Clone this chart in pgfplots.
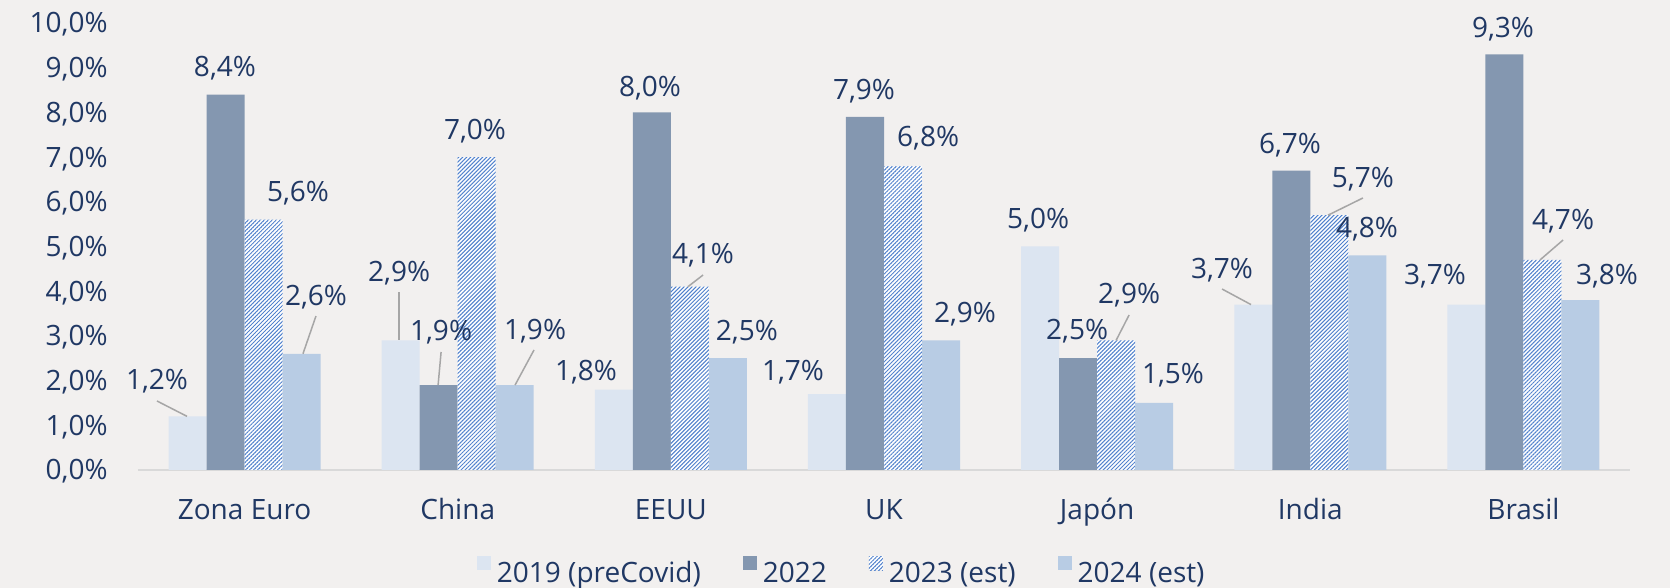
\documentclass[border=0pt]{standalone}
\usepackage{fontspec}
\setmainfont{Open Sans}
\usepackage{pgfplots}
\pgfplotsset{compat=1.18}
\usetikzlibrary{patterns.meta}
\definecolor{bg}{HTML}{F2F0EF}
\definecolor{navy}{HTML}{203864}
\definecolor{cA}{HTML}{DCE5F1}
\definecolor{cB}{HTML}{8497B0}
\definecolor{cC}{HTML}{5081CC}
\definecolor{cD}{HTML}{B8CCE4}
\definecolor{axgray}{HTML}{D9D9D9}
\definecolor{leadgray}{HTML}{A6A6A6}
\tikzset{
  lbl/.style={anchor=base, inner sep=0pt, yshift=-5.1pt, text=navy, font=\fontsize{14}{17}\selectfont},
  leader/.style={draw=leadgray, line width=0.75pt},
}
\newcommand\lab[3]{\node[lbl] at (axis cs:#1,#2) {#3};}
\newcommand\lead[4]{\draw[leader] (axis cs:#1,#2) -- (axis cs:#3,#4);}
\begin{document}
\begin{tikzpicture}
\fill[bg] (-69pt,-59pt) rectangle (766pt,235pt);
\begin{axis}[
  at={(0,0)}, anchor=south west,
  scale only axis, width=746pt, height=223.5pt,
  xmin=-0.5, xmax=6.5, ymin=0, ymax=10,
  ybar=0pt, bar width=0.1783,
  xtick={0,...,6},
  xticklabels={Zona Euro,China,EEUU,UK,Japón,India,Brasil},
  ytick={0,...,10},
  yticklabels={{0,0\%},{1,0\%},{2,0\%},{3,0\%},{4,0\%},{5,0\%},{6,0\%},{7,0\%},{8,0\%},{9,0\%},{10,0\%}},
  axis x line*=bottom, axis y line*=left,
  x axis line style={-, draw=axgray, line width=0.75pt},
  y axis line style={draw=none},
  major tick length=0pt,
  tick style={draw=none},
  font=\fontsize{14}{17}\selectfont,
  ticklabel style={text=navy, font=\fontsize{14}{17}\selectfont},
  xticklabel style={anchor=base, inner sep=0pt, yshift=-25pt},
  yticklabel style={anchor=base east, inner sep=0pt, xshift=-15pt, yshift=-5pt},
  clip=false,
  legend columns=4,
  legend style={draw=none, fill=none, inner sep=0pt, text=navy,
    font=\fontsize{14}{17}\selectfont,
    at={(0.471,-0.226)}, anchor=center,
    nodes={inner sep=0pt},
    /tikz/every odd column/.append style={column sep=3pt},
    /tikz/every even column/.append style={column sep=21pt}},
  legend image code/.code={\draw[#1,draw=none] (0pt,1.5pt) rectangle (7pt,8.5pt);},
]
\addplot[fill=cA, draw=none] coordinates {(0,1.2) (1,2.9) (2,1.8) (3,1.7) (4,5.0) (5,3.7) (6,3.7)};
\addplot[fill=cB, draw=none] coordinates {(0,8.4) (1,1.9) (2,8.0) (3,7.9) (4,2.5) (5,6.7) (6,9.3)};
\addplot[fill=white, draw=none, postaction={pattern={Lines[angle=45,distance=1.41pt,line width=0.5pt]}, pattern color=cC}] coordinates {(0,5.6) (1,7.0) (2,4.1) (3,6.8) (4,2.9) (5,5.7) (6,4.7)};
\addplot[fill=cD, draw=none] coordinates {(0,2.6) (1,1.9) (2,2.5) (3,2.9) (4,1.5) (5,4.8) (6,3.8)};
\legend{2019 (preCovid),2022,2023 (est),2024 (est)}
% leaders
\lead{-0.411}{1.544}{-0.27}{1.2}
\lead{0.335}{3.445}{0.274}{2.6}
\lead{0.725}{3.982}{0.725}{2.9}
\lead{0.922}{2.640}{0.908}{1.9}
\lead{1.358}{2.685}{1.269}{1.9}
\lead{2.151}{4.362}{2.08}{4.1}
\lead{4.150}{3.468}{4.089}{2.9}
\lead{4.586}{4.049}{4.722}{3.7}
\lead{5.247}{6.085}{5.083}{5.7}
\lead{6.186}{5.145}{6.078}{4.7}
% labels
\lab{-0.411}{2.036}{1,2\%}
\lab{-0.092}{9.038}{8,4\%}
\lab{0.251}{6.242}{5,6\%}
\lab{0.335}{3.915}{2,6\%}
\lab{0.725}{4.452}{2,9\%}
\lab{0.922}{3.132}{1,9\%}
\lab{1.081}{7.629}{7,0\%}
\lab{1.363}{3.154}{1,9\%}
\lab{1.602}{2.237}{1,8\%}
\lab{1.902}{8.591}{8,0\%}
\lab{2.151}{4.855}{4,1\%}
\lab{2.357}{3.132}{2,5\%}
\lab{2.573}{2.237}{1,7\%}
\lab{2.906}{8.523}{7,9\%}
\lab{3.207}{7.472}{6,8\%}
\lab{3.380}{3.535}{2,9\%}
\lab{3.723}{5.638}{5,0\%}
\lab{3.906}{3.154}{2,5\%}
\lab{4.150}{3.960}{2,9\%}
\lab{4.356}{2.170}{1,5\%}
\lab{4.586}{4.519}{3,7\%}
\lab{4.905}{7.315}{6,7\%}
\lab{5.247}{6.555}{5,7\%}
\lab{5.266}{5.436}{4,8\%}
\lab{5.585}{4.385}{3,7\%}
\lab{5.904}{9.911}{9,3\%}
\lab{6.186}{5.615}{4,7\%}
\lab{6.392}{4.385}{3,8\%}
\end{axis}
\pgfresetboundingbox
\useasboundingbox (-69pt,-59pt) rectangle (766pt,235pt);
\end{tikzpicture}
\end{document}
